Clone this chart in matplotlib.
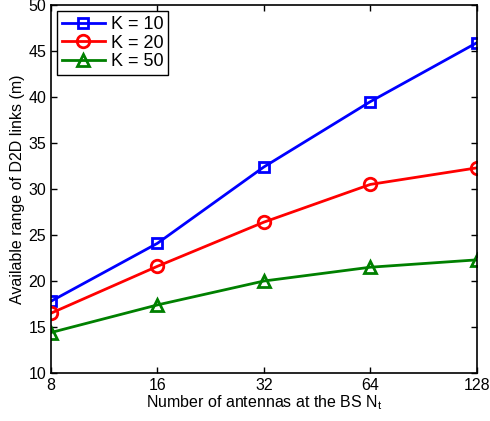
import matplotlib
matplotlib.use("agg")
import matplotlib.pyplot as plt

antennas = [8, 16, 32, 64, 128]
range_k10 = [17.8, 24.1, 32.4, 39.5, 45.9]
range_k20 = [16.5, 21.6, 26.4, 30.5, 32.3]
range_k50 = [14.4, 17.4, 20.0, 21.5, 22.3]

plt.rcParams["font.family"] = ["Liberation Sans", "DejaVu Sans"]
plt.rcParams["font.size"] = 11.5

fig = plt.figure(figsize=(4.9, 4.21), dpi=100)
ax = fig.add_axes([0.104, 0.114, 0.869, 0.874])

ax.plot(antennas, range_k10, "-s", color="#0000ff", lw=2, ms=7, mfc="none", mew=2, label="K = 10")
ax.plot(antennas, range_k20, "-o", color="#ff0000", lw=2, ms=9, mfc="none", mew=2, label="K = 20")
ax.plot(antennas, range_k50, "-^", color="#008000", lw=2, ms=9, mfc="none", mew=2, label="K = 50")

ax.set_xscale("log", base=2)
ax.set_xlim(8, 128)
ax.set_ylim(10, 50)
ax.set_xticks(antennas)
ax.set_xticklabels([str(a) for a in antennas])
ax.minorticks_off()
ax.set_yticks(range(10, 51, 5))
ax.tick_params(direction="in", top=True, right=True, length=4, width=1)
for s in ax.spines.values():
    s.set_linewidth(1.2)
ax.set_xlabel("Number of antennas at the BS N$_\\mathregular{t}$", labelpad=0)
ax.set_ylabel("Available range of D2D links (m)", labelpad=2)

leg = ax.legend(loc="upper left", fancybox=False, edgecolor="black", framealpha=1,
                borderaxespad=0.35, handlelength=2.4, handletextpad=0.3,
                labelspacing=0.1, borderpad=0.25, fontsize=13)
leg.get_frame().set_linewidth(1.0)

fig.savefig("out.png", dpi=100)
plt.close()
